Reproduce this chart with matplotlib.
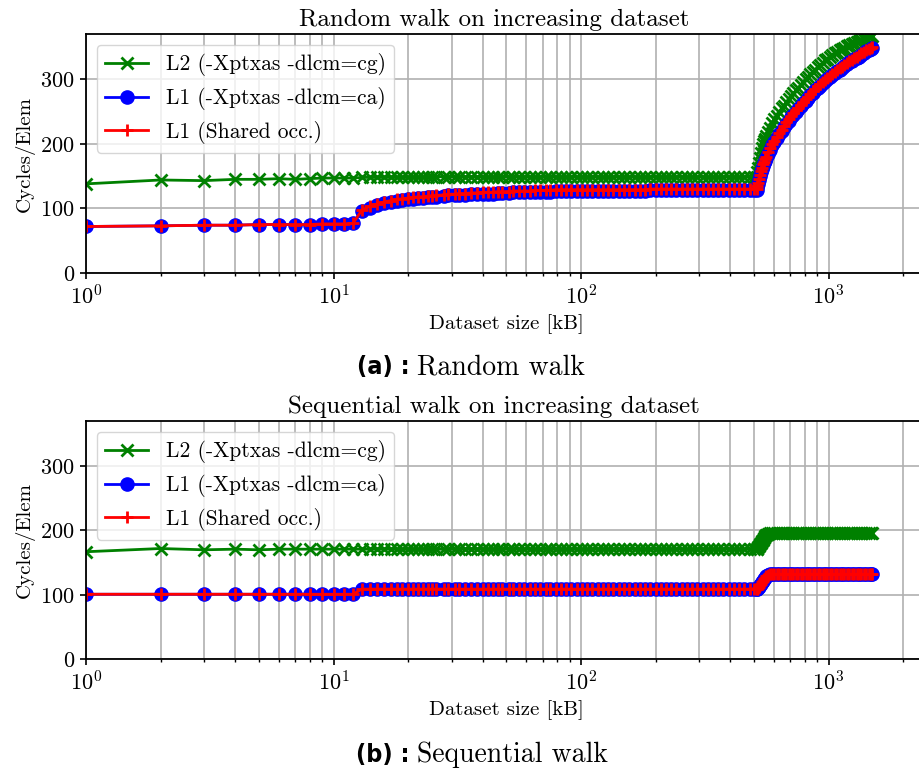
import numpy as np
import matplotlib
matplotlib.use('Agg')
import matplotlib.pyplot as plt

plt.rcParams['font.family'] = ['cmr10', 'DejaVu Sans']
plt.rcParams['mathtext.fontset'] = 'cm'
plt.rcParams['axes.formatter.use_mathtext'] = True
plt.rcParams['font.size'] = 15

# dataset sizes (kB) at which both walks were measured
sizes_kb = (list(range(1, 21))
            + [21, 22, 23, 24, 25, 26, 28, 29, 31, 32, 34, 36, 38, 40, 42, 44,
               46, 48, 51, 53, 56, 59, 62, 65, 68, 72, 75, 79, 83, 87, 91, 96,
               101, 106, 111, 117, 123, 129, 135, 142, 149, 157, 165, 173, 181,
               190, 200, 210, 220, 231, 243, 255, 268, 281, 295, 310, 325, 341,
               358, 376, 395, 415, 435, 457, 480, 500, 512]
            + [516, 520, 525, 530, 535, 540, 545, 550, 555, 560, 570, 580, 593,
               605, 618, 632, 646, 660, 675, 690, 706, 722, 738, 755, 772, 790,
               808, 826, 845, 864, 884, 904, 925, 946, 968, 990, 1013, 1036,
               1060, 1084, 1109, 1134, 1160, 1187, 1214, 1242, 1270, 1299, 1329,
               1359, 1390, 1422, 1455, 1488, 1500])

# random walk, cycles per element
rand_l2 = ([138, 144, 143, 145, 145, 146, 145, 146, 147, 147, 147, 147,
            148, 148, 148, 148, 148, 148, 148, 148]
           + [149] * 67
           + [156, 163, 171, 178, 186, 193, 199, 204, 208, 212, 219, 225, 232,
              238, 243, 249, 255, 259, 264, 269, 274, 278, 283, 287, 291, 296,
              300, 304, 308, 311, 315, 319, 322, 325, 329, 332, 334, 337, 340,
              342, 345, 347, 349, 351, 353, 355, 356, 358, 359, 361, 362, 364,
              365, 366, 367])
rand_l1 = ([72, 73, 74, 74, 75, 75, 75, 75, 76, 76, 76, 77,
            96, 101, 105, 108, 110, 112, 113, 114]
           + [115, 116, 116, 117, 117, 118, 119, 120, 120, 121, 121, 122, 122,
              123, 123, 123, 124, 124, 124, 125, 125, 125, 125, 126, 126, 126,
              126] + [127] * 18 + [128] * 22
           + [133, 138, 144, 150, 156, 161, 166, 170, 174, 178, 185, 191, 198,
              203, 209, 215, 220, 226, 231, 236, 241, 245, 250, 254, 258, 263,
              267, 271, 275, 279, 283, 287, 290, 294, 297, 300, 303, 306, 309,
              312, 315, 317, 320, 323, 326, 328, 331, 333, 335, 338, 340, 343,
              345, 347, 348])
rand_shared = ([72, 73, 74, 74, 75, 75, 75, 75, 76, 76, 76, 77,
                97, 103, 107, 110, 112, 114, 115, 116]
               + [117, 118, 118, 119, 119, 120, 121, 122, 122, 123, 123, 124,
                  124, 125, 125, 125, 126, 126, 126, 127, 127, 127, 127, 128,
                  128, 128, 128] + [129] * 18 + [130] * 22
               + [135, 140, 146, 152, 158, 163, 168, 172, 176, 180, 187, 193,
                  200, 205, 211, 217, 222, 228, 233, 238, 243, 247, 252, 256,
                  260, 265, 269, 273, 277, 281, 285, 289, 292, 296, 299, 302,
                  305, 308, 311, 314, 317, 319, 322, 325, 328, 330, 333, 335,
                  337, 340, 342, 345, 347, 349, 350])

# sequential walk, cycles per element
seq_l2 = ([167, 172, 170, 171, 170] + [171] * 15
          + [171] * 67
          + [172, 174, 176, 179, 181, 184, 186, 189, 191, 193, 195, 196]
          + [196] * 43)
seq_l1 = ([101] * 12 + [109] * 8
          + [109] * 67
          + [109, 111, 113, 115, 117, 120, 122, 125, 127, 129, 131, 132]
          + [132] * 43)
seq_shared = ([101] * 12 + [109] * 8
              + [109] * 67
              + [109, 111, 113, 115, 117, 120, 122, 125, 127, 129, 131, 132]
              + [132] * 43)

labels = ['L2 (-Xptxas -dlcm=cg)', 'L1 (-Xptxas -dlcm=ca)', 'L1 (Shared occ.)']


def draw(ax, l2, l1, shared, title):
    ax.plot(sizes_kb, l2, color='green', marker='x', lw=2, ms=9, mew=2,
            label=labels[0])
    ax.plot(sizes_kb, l1, color='blue', marker='o', lw=2, ms=9.5,
            label=labels[1])
    ax.plot(sizes_kb, shared, color='red', marker='+', lw=2, ms=9, mew=2,
            label=labels[2])
    ax.set_xscale('log')
    ax.set_xlim(1, 2477)
    ax.set_ylim(0, 370)
    ax.set_yticks([0, 100, 200, 300])
    ax.grid(True, which='both', color='#b0b0b0', lw=1.2)
    ax.set_axisbelow(True)
    ax.tick_params(which='major', length=4.5, width=1.2, labelsize=16)
    ax.tick_params(which='minor', length=2.5, width=1.0)
    for s in ax.spines.values():
        s.set_linewidth(1.3)
    ax.set_xlabel('Dataset size [kB]')
    ax.set_ylabel('Cycles/Elem')
    ax.set_title(title, fontsize=18, x=0.486)
    ax.legend(loc='upper left', fontsize=15.5)


fig = plt.figure(figsize=(9.2, 7.73), dpi=100)
ax1 = fig.add_axes([86 / 920, 1 - 273 / 773, 840 / 920, 239 / 773])
ax2 = fig.add_axes([86 / 920, 1 - 659.3 / 773, 840 / 920, 238.3 / 773])

draw(ax1, rand_l2, rand_l1, rand_shared, 'Random walk on increasing dataset')
draw(ax2, seq_l2, seq_l1, seq_shared, 'Sequential walk on increasing dataset')

for ycap, tag, cap in [(1 - 367 / 773, '(a) :', 'Random walk'),
                       (1 - 755 / 773, '(b) :', 'Sequential walk')]:
    fig.text(410 / 920, ycap, tag, ha='right', va='center', fontsize=18,
             fontweight='bold', family='DejaVu Sans', fontstretch='condensed')
    fig.text(417 / 920, ycap, cap, ha='left', va='center', fontsize=20)

fig.savefig('out.png', dpi=100)
